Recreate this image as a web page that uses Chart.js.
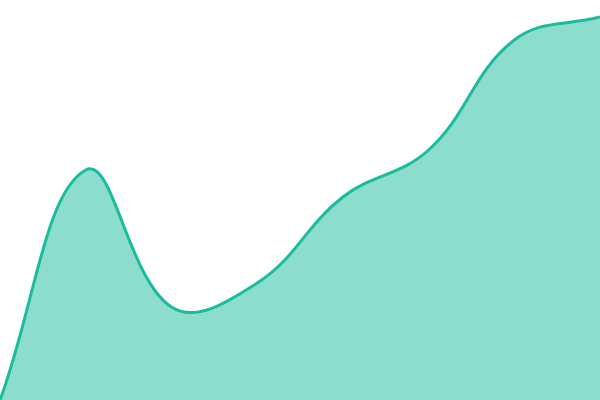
<!DOCTYPE html>
<html>
<head>
<meta charset="utf-8">
<script src="https://cdn.jsdelivr.net/npm/chart.js@4"></script>
<style>
  html, body { margin: 0; padding: 0; background: #fff; }
  #wrap { width: 600px; height: 400px; }
</style>
</head>
<body>
<div id="wrap"><canvas id="areaChart"></canvas></div>
<script>
// ===== DATA =====
const labels = ["1", "2", "3", "4", "5", "6", "7", "8"];
const values = [0, 230, 93, 117, 203, 250, 360, 383];

new Chart(document.getElementById("areaChart"), {
  type: "line",
  data: {
    labels: labels,
    datasets: [
      {
        data: values,
        borderColor: "#1abc9c",
        backgroundColor: "rgba(26,188,156,0.5)",
        borderWidth: 3,
        fill: true,
        tension: 0.4,
        pointRadius: 0,
      },
    ],
  },
  options: {
    responsive: true,
    maintainAspectRatio: false,
    animation: false,
    layout: { padding: 0 },
    plugins: { legend: { display: false }, tooltip: { enabled: false } },
    scales: {
      x: { display: false, offset: false },
      y: { display: false, min: 0, max: 400 },
    },
  },
});
</script>
</body>
</html>
